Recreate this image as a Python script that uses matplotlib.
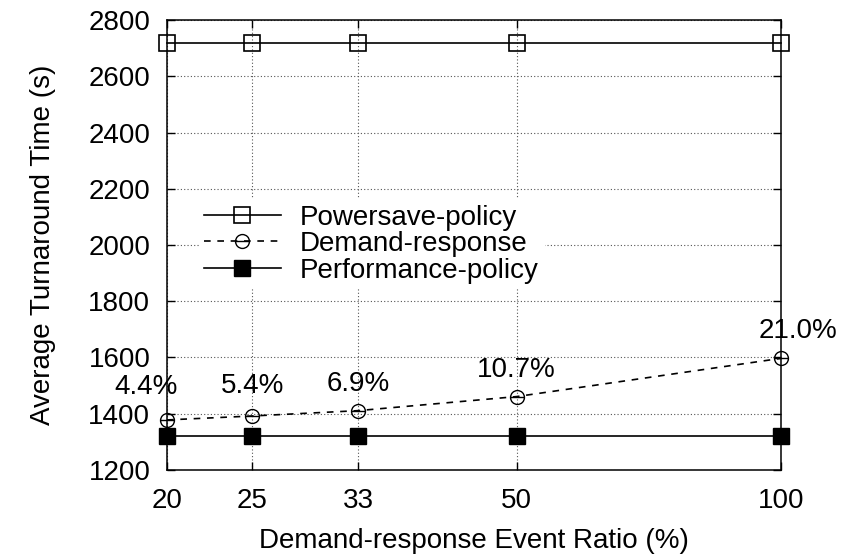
"""Average turnaround time vs demand-response event ratio"""
import matplotlib
matplotlib.use("Agg")
import numpy as np
from matplotlib import pyplot as plt
from matplotlib.path import Path
from matplotlib.ticker import FixedLocator, NullLocator, FixedFormatter

ratios = [20, 25, 33, 50, 100]
powersave = [2720, 2720, 2720, 2720, 2720]
demand_response = [1378, 1392, 1411, 1461, 1597]
performance = [1320, 1320, 1320, 1320, 1320]
gain_labels = ["4.4%", "5.4%", "6.9%", "10.7%", "21.0%"]
y_ticks = [1200, 1400, 1600, 1800, 2000, 2200, 2400, 2600, 2800]

plt.rcParams["font.family"] = ["Liberation Sans", "DejaVu Sans"]
plt.rcParams["font.size"] = 20

# circle with a bar through it (gnuplot-like point type)
circle_minus = Path.make_compound_path(
    Path.unit_circle(),
    Path([[-1, 0], [1, 0]], [Path.MOVETO, Path.LINETO]),
)

fig = plt.figure(figsize=(8.41, 5.56), dpi=100)
ax = fig.add_axes([0.1986, 0.1547, 0.7301, 0.8093])

ax.plot(ratios, powersave, color="black", linewidth=1.2, marker="s",
        markersize=11, markerfacecolor="none", markeredgewidth=1.2,
        label="Powersave-policy", clip_on=False, zorder=3)
ax.plot(ratios, demand_response, color="black", linewidth=1.2,
        linestyle=(0, (4, 4)), marker=circle_minus, markersize=10,
        markerfacecolor="none", markeredgewidth=1.0,
        label="Demand-response", clip_on=False, zorder=3)
ax.plot(ratios, performance, color="black", linewidth=1.2, marker="s",
        markersize=11, markerfacecolor="black", label="Performance-policy",
        clip_on=False, zorder=3)

offsets = [(-15, 14), (0, 12), (0, 10), (0, 10), (12, 10)]
for x, y, txt, off in zip(ratios, demand_response, gain_labels, offsets):
    ax.annotate(txt, (x, y), xytext=off, textcoords="offset points",
                ha="center", va="bottom", fontsize=20)

ax.set_xscale("log")
ax.set_xlim(20, 100)
ax.set_ylim(1200, 2800)
ax.xaxis.set_major_locator(FixedLocator(ratios))
ax.xaxis.set_major_formatter(FixedFormatter([str(r) for r in ratios]))
ax.xaxis.set_minor_locator(NullLocator())
ax.set_yticks(y_ticks)

ax.tick_params(direction="in", length=6, width=1.0, top=True, right=True,
               labelsize=20)
ax.tick_params(axis="x", pad=13)
ax.tick_params(axis="y", pad=12)
ax.grid(True, linestyle=(0, (1, 2)), color="#555555", linewidth=0.8)
for s in ax.spines.values():
    s.set_linewidth(1.1)

ax.set_xlabel("Demand-response Event Ratio (%)", fontsize=20, labelpad=10)
ax.set_ylabel("Average Turnaround Time (s)", fontsize=20, labelpad=23)

leg = ax.legend(loc="upper left", bbox_to_anchor=(0.029, 0.633), fontsize=20,
                frameon=True, fancybox=False, edgecolor="none",
                handlelength=2.75, handletextpad=0.7, labelspacing=0.02,
                borderpad=0.2, framealpha=1.0)

fig.savefig("out.png", dpi=100)
